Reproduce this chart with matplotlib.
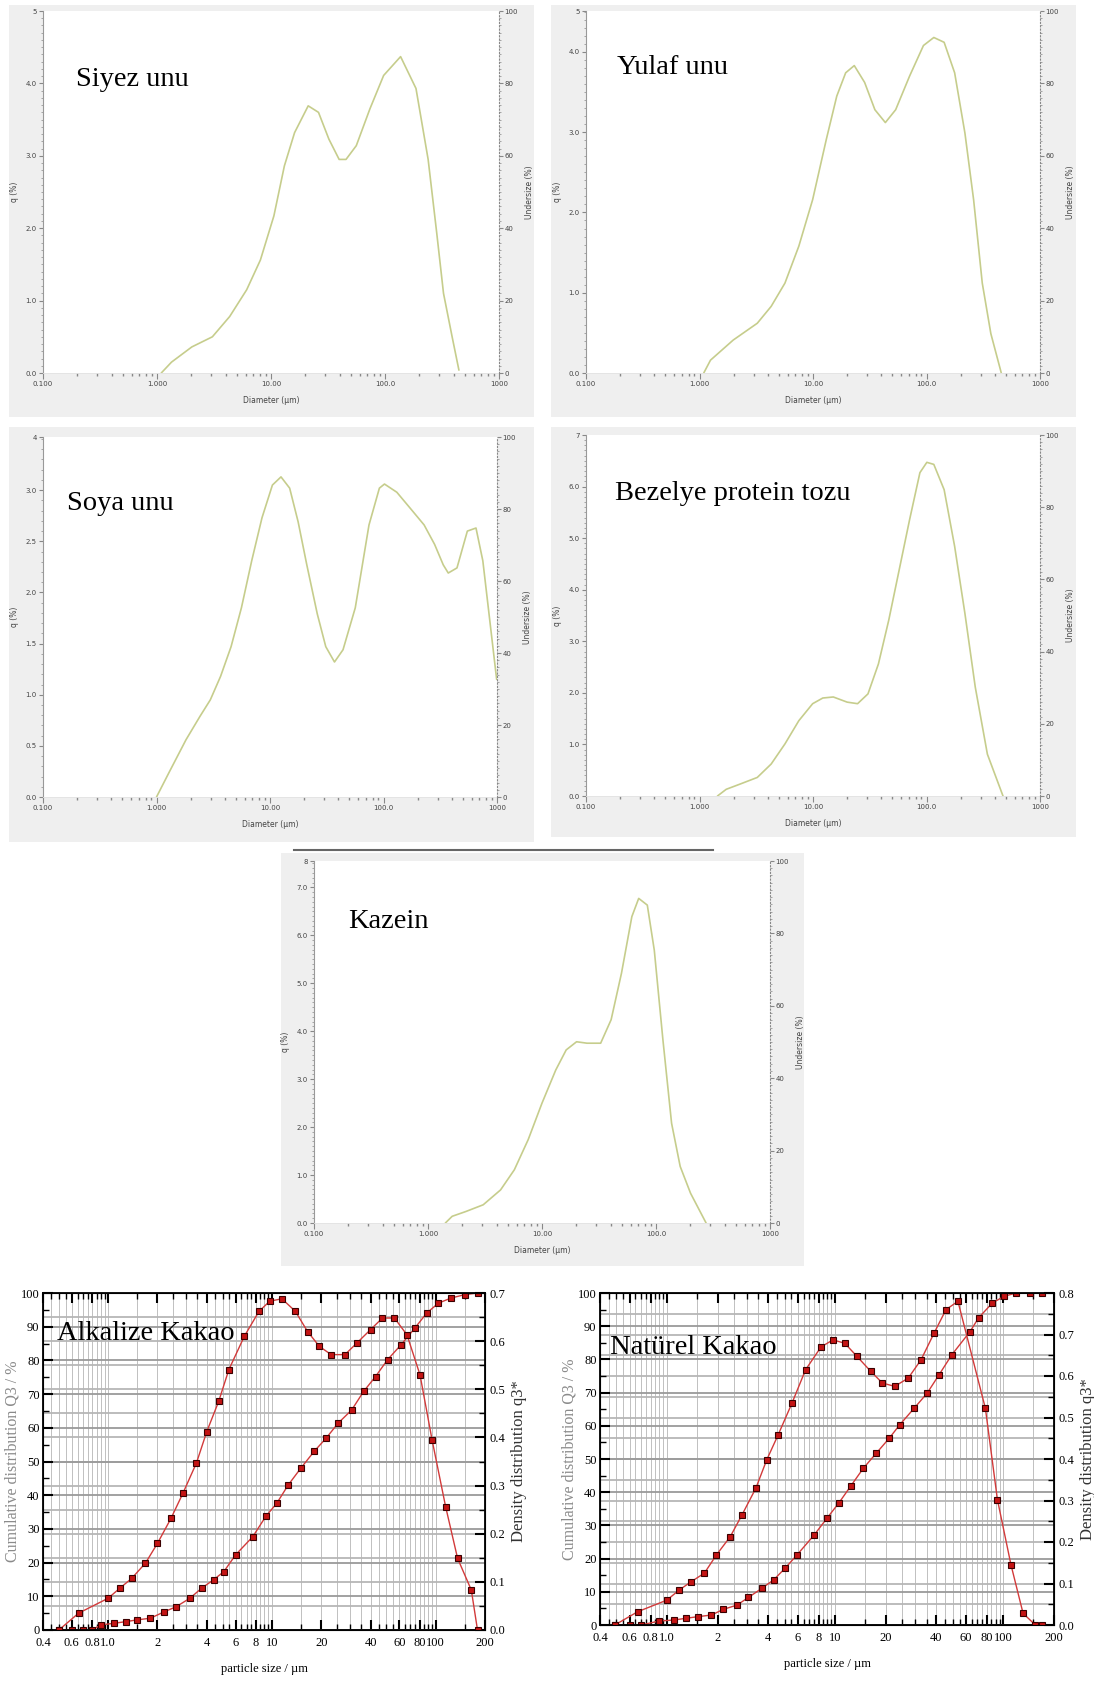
import numpy as np
import matplotlib
matplotlib.use("Agg")
import matplotlib.pyplot as plt
import matplotlib.transforms as mtransforms
from matplotlib.patches import Rectangle
from matplotlib.lines import Line2D
from matplotlib.ticker import MultipleLocator, LogLocator, NullFormatter

W, H = 1094, 1693

# ---- laser diffraction curves (q %, diameter in um) ----
siyez_x = [1.09, 1.34, 2.02, 3.06, 4.34, 6.12, 8.07, 10.6, 13.1, 16.1, 21.2, 26.1, 32.2, 39.6, 45.5,
           56, 73.8, 97.3, 137, 187, 239, 284, 326, 388, 445]
siyez_q = [0, 0.15, 0.36, 0.5, 0.78, 1.15, 1.56, 2.17, 2.86, 3.32, 3.69, 3.6, 3.23, 2.95, 2.95,
           3.14, 3.65, 4.11, 4.37, 3.93, 2.95, 1.94, 1.10, 0.5, 0.04]

yulaf_x = [1.09, 1.25, 1.98, 3.23, 4.28, 5.66, 7.5, 9.93, 13.1, 16.2, 19.4, 23.1, 28.5, 35.1, 43.4,
           53.5, 71, 94, 116, 143, 177, 218, 260, 310, 369, 456]
yulaf_q = [0, 0.16, 0.41, 0.62, 0.83, 1.12, 1.58, 2.16, 2.91, 3.45, 3.74, 3.83, 3.62, 3.28, 3.12,
           3.28, 3.7, 4.08, 4.18, 4.12, 3.74, 2.99, 2.16, 1.12, 0.49, 0]

soya_x = [1.0, 1.29, 1.82, 2.42, 2.98, 3.67, 4.54, 5.6, 6.9, 8.5, 10.5, 12.5, 14.9, 17.7, 21.1,
          26.1, 31, 37, 44, 56.4, 74.5, 92, 102, 131, 173, 228, 282, 336, 372, 444, 548, 653,
          750, 863, 993]
soya_q = [0, 0.24, 0.56, 0.79, 0.95, 1.18, 1.47, 1.85, 2.31, 2.73, 3.05, 3.13, 3.02, 2.69, 2.27,
          1.79, 1.47, 1.32, 1.44, 1.85, 2.66, 3.02, 3.06, 2.98, 2.82, 2.66, 2.47, 2.27, 2.19, 2.24,
          2.6, 2.63, 2.31, 1.73, 1.15]

bezelye_x = [1.44, 1.72, 2.27, 3.23, 4.28, 5.66, 7.5, 9.93, 12.2, 15.1, 20, 24.7, 30.5, 37.7, 46.5,
             57.4, 71, 87.5, 100.7, 116, 143, 177, 218, 269, 344, 472]
bezelye_q = [0, 0.13, 0.23, 0.36, 0.62, 1.01, 1.46, 1.79, 1.9, 1.92, 1.82, 1.79, 1.98, 2.56, 3.41,
             4.38, 5.36, 6.27, 6.47, 6.43, 5.94, 4.84, 3.54, 2.11, 0.81, 0]

kazein_x = [1.42, 1.63, 2.15, 3.05, 4.33, 5.72, 7.57, 10, 13.2, 16.3, 20.1, 24.8, 32.7, 40.4, 49.8,
            61.4, 70.5, 83.9, 96.6, 115, 137, 163, 201, 275]
kazein_q = [0, 0.14, 0.24, 0.38, 0.69, 1.11, 1.74, 2.5, 3.19, 3.61, 3.78, 3.75, 3.75, 4.24, 5.21,
            6.39, 6.77, 6.63, 5.69, 3.82, 2.08, 1.18, 0.62, 0]

# ---- cocoa: cumulative Q3 (%) and density q3* ----
alk_cum_x = [0.5, 0.6, 0.7, 0.8, 0.9, 1.09, 1.29, 1.5, 1.81, 2.2, 2.6, 3.15, 3.72, 4.4, 5.08, 6.0,
             7.64, 9.17, 10.7, 12.6, 15.0, 18.1, 21.4, 25.4, 30.7, 36.3, 42.9, 50.8, 61.6, 74.6,
             88.3, 104, 124, 150, 180]
alk_cum_Q = [0, 0, 0, 0, 1.5, 2.0, 2.5, 3.0, 3.5, 5.4, 6.9, 9.4, 12.4, 14.9, 17.3, 22.3, 27.7, 33.7,
             37.6, 43.1, 48.0, 53, 56.9, 61.4, 65.3, 70.8, 75.2, 80.2, 84.7, 89.6, 94.1, 97, 98.5,
             99.5, 100]
alk_dens_x = [0.5, 0.66, 1.0, 1.18, 1.39, 1.69, 2.0, 2.42, 2.86, 3.46, 4.0, 4.73, 5.46, 6.78, 8.34,
              9.7, 11.5, 13.9, 16.5, 19.5, 23, 27.9, 33, 40, 47.3, 56, 66.8, 80.2, 95, 115, 136,
              165, 180]
alk_dens_q = [0.0, 0.035, 0.066, 0.087, 0.107, 0.139, 0.180, 0.232, 0.284, 0.347, 0.412, 0.475,
              0.541, 0.610, 0.662, 0.683, 0.688, 0.662, 0.620, 0.589, 0.572, 0.572, 0.596, 0.624,
              0.648, 0.648, 0.613, 0.53, 0.395, 0.256, 0.149, 0.083, 0.0]

nat_cum_x = [0.49, 0.6, 0.7, 0.9, 1.1, 1.29, 1.52, 1.84, 2.16, 2.61, 3.05, 3.68, 4.31, 5.04, 5.93,
             7.5, 8.95, 10.5, 12.4, 14.7, 17.6, 21.0, 24.2, 29.5, 35.2, 41.5, 49.4, 63.4, 71.2,
             86, 101, 119, 144, 170]
nat_cum_Q = [0, 0, 0, 1.2, 1.5, 2.0, 2.5, 3.0, 4.7, 6.0, 8.3, 11.1, 13.6, 17.1, 21.1, 27.1, 32.2,
             36.7, 41.9, 47.2, 51.8, 56.3, 60.3, 65.3, 69.8, 75.4, 81.4, 88.4, 92.5, 97, 99, 100,
             100, 100]
nat_dens_x = [0.49, 0.67, 1.0, 1.18, 1.39, 1.67, 1.97, 2.38, 2.8, 3.38, 3.92, 4.58, 5.53, 6.67, 8.24,
              9.7, 11.4, 13.5, 16.3, 19.1, 22.6, 27.2, 32.4, 38.7, 45.6, 53.7, 78.2, 92.2, 111,
              131, 155, 170]
nat_dens_q = [0, 0.032, 0.06, 0.084, 0.104, 0.125, 0.169, 0.213, 0.266, 0.33, 0.398, 0.458, 0.534,
              0.615, 0.67, 0.687, 0.679, 0.647, 0.611, 0.583, 0.575, 0.595, 0.639, 0.703, 0.76,
              0.78, 0.522, 0.302, 0.145, 0.028, 0, 0]

diam_ticks = [0.1, 1, 10, 100, 1000]
diam_labels = ['0.100', '1.000', '10.00', '100.0', '1000']
under_ticks = [0, 20, 40, 60, 80, 100]
size_ticks = [0.4, 0.6, 0.8, 1.0, 2, 4, 6, 8, 10, 20, 40, 60, 80, 100, 200]
size_labels = ['0.4', '0.6', '0.8', '1.0', '2', '4', '6', '8', '10', '20', '40', '60', '80', '100', '200']

SERIF = 'Liberation Serif'
CURVE = '#c6cd8c'

fig = plt.figure(figsize=(W / 100, H / 100), dpi=100)
fig.patch.set_facecolor('white')


def fig_rect(x0, y0, x1, y1):
    return [x0 / W, 1 - y1 / H, (x1 - x0) / W, (y1 - y0) / H]


def title(x, y, txt):
    fig.text(x / W, 1 - y / H, txt, fontsize=20.5, family=SERIF, ha='left', va='center', zorder=20)


def psd_panel(grey, box, x, q, ymax, yt, yl, name, txy):
    gx0, gy0, gx1, gy1 = grey
    fig.add_artist(Rectangle((gx0 / W, 1 - gy1 / H), (gx1 - gx0) / W, (gy1 - gy0) / H,
                             transform=fig.transFigure, facecolor='#efefef', edgecolor='none', zorder=-5))
    ax = fig.add_axes(fig_rect(*box))
    ax.set_facecolor('white')
    ax.set_xscale('log')
    ax.set_xlim(0.1, 1000)
    ax.set_ylim(0, ymax)
    ax.plot(x, q, color=CURVE, lw=1.2, solid_capstyle='round', solid_joinstyle='round')

    ax.set_xticks(diam_ticks, diam_labels, fontsize=5, color='#444')
    ax.xaxis.set_minor_locator(LogLocator(base=10, subs=np.arange(2, 10)))
    ax.xaxis.set_minor_formatter(NullFormatter())
    ax.tick_params(axis='x', which='major', length=4, color='#888', pad=2)
    ax.tick_params(axis='x', which='minor', length=1.8, width=1, color='#888')
    ax.set_yticks(yt, yl, fontsize=5, color='#444')
    ax.yaxis.set_minor_locator(MultipleLocator(0.1))
    ax.tick_params(axis='y', which='major', length=3, color='#888', pad=1.5)
    ax.tick_params(axis='y', which='minor', length=1.8, color='#999')
    for s in ['top', 'right']:
        ax.spines[s].set_visible(False)
    ax.spines['bottom'].set_color('#e2e2e2')
    ax.spines['bottom'].set_linewidth(0.6)
    ax.spines['left'].set_color('#999')
    ax.spines['left'].set_linewidth(0.8)
    ax.set_xlabel('Diameter (µm)', fontsize=5.5, color='#444', labelpad=6)
    ax.set_ylabel('q (%)', fontsize=5.5, color='#444', labelpad=5)

    ax2 = ax.twinx()
    ax2.set_ylim(0, 100)
    ax2.set_yticks(under_ticks, [str(v) for v in under_ticks], fontsize=5, color='#444')
    ax2.yaxis.set_minor_locator(MultipleLocator(2))
    ax2.tick_params(axis='y', which='major', length=3, color='#888', pad=1)
    ax2.tick_params(axis='y', which='minor', length=1.2, color='#999')
    for s in ['top', 'left', 'bottom']:
        ax2.spines[s].set_visible(False)
    ax2.spines['right'].set_linestyle((0, (1, 2)))
    ax2.spines['right'].set_color('#888')
    ax2.set_ylabel('Undersize (%)', fontsize=5.5, color='#444', labelpad=5)
    title(txy[0], txy[1], name)
    return ax


psd_panel((9, 5, 534, 417), (43, 11, 499, 373), siyez_x, siyez_q, 5,
          [0, 1, 2, 3, 4, 5], ['0.0', '1.0', '2.0', '3.0', '4.0', '5'], 'Siyez unu', (76, 80))
psd_panel((551, 5, 1076, 417), (586, 11, 1040, 373), yulaf_x, yulaf_q, 4.51,
          [0, 1, 2, 3, 4, 4.51], ['0.0', '1.0', '2.0', '3.0', '4.0', '5'], 'Yulaf unu', (617, 68))
psd_panel((9, 427, 534, 842), (43, 437, 497, 797), soya_x, soya_q, 3.52,
          [0, 0.5, 1, 1.5, 2, 2.5, 3, 3.52], ['0.0', '0.5', '1.0', '1.5', '2.0', '2.5', '3.0', '4'],
          'Soya unu', (67, 503))
psd_panel((551, 427, 1076, 837), (586, 435, 1040, 796), bezelye_x, bezelye_q, 7,
          [0, 1, 2, 3, 4, 5, 6, 7], ['0.0', '1.0', '2.0', '3.0', '4.0', '5.0', '6.0', '7'],
          'Bezelye protein tozu', (615, 493))
psd_panel((281, 853, 804, 1266), (314, 861, 770, 1223), kazein_x, kazein_q, 7.55,
          [0, 1, 2, 3, 4, 5, 6, 7, 7.55], ['0.0', '1.0', '2.0', '3.0', '4.0', '5.0', '6.0', '7.0', '8'],
          'Kazein', (348, 922))
fig.add_artist(Line2D([294 / W, 713 / W], [1 - 850 / H, 1 - 850 / H], transform=fig.transFigure,
                      color='#666', lw=1.5))


def cocoa_panel(box, cx, cQ, dx, dq, rmax, name, txy):
    ax = fig.add_axes(fig_rect(*box))
    ax.set_xscale('log')
    ax.set_xlim(0.4, 200)
    ax.set_ylim(0, 100)
    ax2 = ax.twinx()
    ax2.set_ylim(0, rmax)

    # grid
    ax.xaxis.set_minor_locator(LogLocator(base=10, subs=np.arange(1.0, 10.0, 0.5)))
    ax.xaxis.set_minor_formatter(NullFormatter())
    ax.set_xticks(size_ticks, size_labels, fontsize=9, family=SERIF)
    ax.grid(True, which='both', axis='x', color='#b5b5b5', lw=0.6)
    ax.set_yticks(np.arange(0, 101, 10), [str(v) for v in range(0, 101, 10)], fontsize=9, family=SERIF)
    ax.yaxis.set_minor_locator(MultipleLocator(5))
    ax.grid(True, which='major', axis='y', color='#9a9a9a', lw=1.3)
    blend = mtransforms.blended_transform_factory(ax.transAxes, ax2.transData)
    for v in np.arange(0.05, rmax, 0.05):
        ax.plot([0, 1], [v, v], transform=blend, color='#aaaaaa', lw=1.1, zorder=0.5)
    ax.set_axisbelow(True)

    ax.tick_params(which='both', direction='in', top=True, color='black')
    ax.tick_params(which='major', length=7, width=1.5)
    ax.tick_params(which='minor', length=4, width=1.0)
    ax.tick_params(axis='x', pad=5)
    ax.tick_params(axis='y', pad=2.5)
    for s in ax.spines.values():
        s.set_linewidth(1.3)
        s.set_color('black')

    rt = np.round(np.arange(0, rmax + 0.01, 0.1), 1)
    ax2.set_yticks(rt, ['%.1f' % v for v in rt], fontsize=9, family=SERIF)
    ax2.yaxis.set_minor_locator(MultipleLocator(0.05))
    ax2.tick_params(which='both', direction='in', color='black')
    ax2.tick_params(which='major', length=7, width=1.5)
    ax2.tick_params(which='minor', length=4, width=1.0)

    style = dict(color='#d23a3a', lw=1.0, marker='s', ms=5, mfc='#c41414', mec='#3a0000', mew=0.8)
    ax.plot(cx, cQ, **style)
    ax2.plot(dx, dq, **style)

    ax.set_ylabel('Cumulative distribution Q3 / %', fontsize=11.5, family=SERIF, color='#8a8a8a', labelpad=0)
    ax2.set_ylabel('Density distribution q3*', fontsize=12, family=SERIF, color='#333', labelpad=4)
    ax.set_xlabel('particle size / µm', fontsize=9, family=SERIF, labelpad=10)
    title(txy[0], txy[1], name)


cocoa_panel((43, 1293, 485, 1630), alk_cum_x, alk_cum_Q, alk_dens_x, alk_dens_q, 0.7,
            'Alkalize Kakao', (57, 1333))
cocoa_panel((600, 1293, 1054, 1625), nat_cum_x, nat_cum_Q, nat_dens_x, nat_dens_q, 0.8,
            'Natürel Kakao', (610, 1348))

fig.savefig('out.png', dpi=100)
